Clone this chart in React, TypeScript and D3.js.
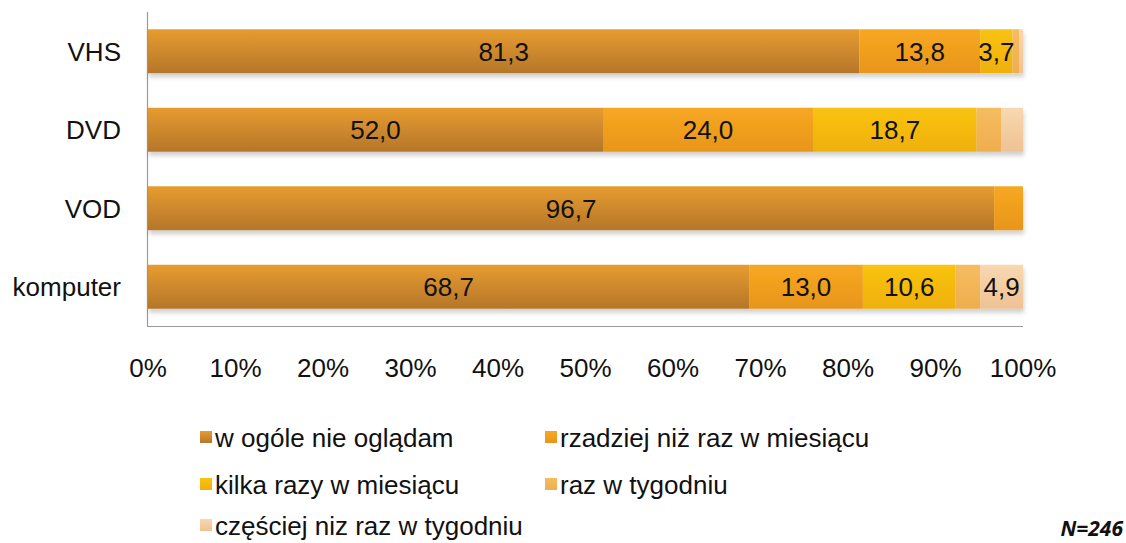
import React from 'react';
import * as d3 from 'd3';

const categories = ['VHS', 'DVD', 'VOD', 'komputer'];
const seriesNames = [
  'w ogóle nie oglądam',
  'rzadziej niż raz w miesiącu',
  'kilka razy w miesiącu',
  'raz w tygodniu',
  'częściej niz raz w tygodniu',
];
// values per category, in series order
const vhsValues = [81.3, 13.8, 3.7, 0.8, 0.4];
const dvdValues = [52.0, 24.0, 18.7, 2.8, 2.5];
const vodValues = [96.7, 3.3, 0, 0, 0];
const komputerValues = [68.7, 13.0, 10.6, 2.8, 4.9];
const xTicks = [0, 10, 20, 30, 40, 50, 60, 70, 80, 90, 100];
const sampleNote = 'N=246';

const colorTop = ['#E79C2F', '#F7A821', '#F9C312', '#F6BC60', '#F9D8B0'];
const colorBottom = ['#B5762B', '#E8951B', '#EFB00C', '#EFAE4E', '#EEC293'];

const App: React.FC = () => {
  const svgRef = React.useRef<SVGSVGElement>(null);
  const width = 1126;
  const height = 543;

  React.useEffect(() => {
    if (!svgRef.current) return;
    const svg = d3.select(svgRef.current);
    svg.selectAll('*').remove();

    const rows = [vhsValues, dvdValues, vodValues, komputerValues];
    const font = "'Liberation Sans', Arial, sans-serif";
    const fs = 26;

    const x = d3.scaleLinear().domain([0, 100]).range([148, 1023]);
    const y = d3.scaleBand().domain(categories).range([12, 326]).paddingInner(0.44).paddingOuter(0.22);

    const defs = svg.append('defs');
    colorTop.forEach((c, i) => {
      const g = defs.append('linearGradient')
        .attr('id', `grad${i}`)
        .attr('x1', 0).attr('y1', 0).attr('x2', 0).attr('y2', 1);
      g.append('stop').attr('offset', '0%').attr('stop-color', c);
      g.append('stop').attr('offset', '100%').attr('stop-color', colorBottom[i]);
    });
    const f = defs.append('filter').attr('id', 'shadow')
      .attr('x', '-5%').attr('y', '-20%').attr('width', '110%').attr('height', '160%');
    f.append('feDropShadow')
      .attr('dx', 1).attr('dy', 4).attr('stdDeviation', 2)
      .attr('flood-color', '#000').attr('flood-opacity', 0.18);

    // axes lines
    svg.append('line')
      .attr('x1', 147.5).attr('x2', 147.5).attr('y1', 12).attr('y2', 326.5)
      .attr('stroke', '#9a9a9a').attr('stroke-width', 1.2);
    svg.append('line')
      .attr('x1', 147).attr('x2', 1023).attr('y1', 326.5).attr('y2', 326.5)
      .attr('stroke', '#9a9a9a').attr('stroke-width', 1.2);

    rows.forEach((vals, ci) => {
      const cat = categories[ci];
      const g = svg.append('g').attr('filter', 'url(#shadow)');
      let acc = 0;
      const segs = vals.map((v, si) => {
        const s = { si, x0: acc, x1: acc + v, v };
        acc += v;
        return s;
      }).filter(s => s.v > 0);
      g.selectAll('rect')
        .data(segs)
        .enter().append('rect')
        .attr('x', d => x(d.x0))
        .attr('width', d => x(d.x1) - x(d.x0))
        .attr('y', y(cat) || 0)
        .attr('height', y.bandwidth())
        .attr('fill', d => `url(#grad${d.si})`);

      svg.append('g').selectAll('text')
        .data(segs.filter(s => s.v >= 3.5))
        .enter().append('text')
        .attr('x', d => (x(d.x0) + x(d.x1)) / 2)
        .attr('y', (y(cat) || 0) + y.bandwidth() / 2)
        .attr('dy', '0.36em')
        .attr('text-anchor', 'middle')
        .attr('font-family', font)
        .attr('font-size', fs)
        .attr('fill', '#111')
        .text(d => d3.format('.1f')(d.v).replace('.', ','));

      svg.append('text')
        .attr('x', 121)
        .attr('y', (y(cat) || 0) + y.bandwidth() / 2)
        .attr('dy', '0.36em')
        .attr('text-anchor', 'end')
        .attr('font-family', font)
        .attr('font-size', fs)
        .attr('fill', '#111')
        .text(cat);
    });

    // x tick labels
    svg.append('g').selectAll('text')
      .data(xTicks)
      .enter().append('text')
      .attr('x', d => x(d))
      .attr('y', 368)
      .attr('dy', '0.36em')
      .attr('text-anchor', 'middle')
      .attr('font-family', font)
      .attr('font-size', fs)
      .attr('fill', '#111')
      .text(d => `${d}%`);

    // legend
    const legendPos = [
      [200, 438], [545, 438],
      [200, 485], [545, 485],
      [200, 526],
    ];
    seriesNames.forEach((name, i) => {
      const [lx, ly] = legendPos[i];
      svg.append('rect')
        .attr('x', lx).attr('y', ly - 7).attr('width', 12).attr('height', 12)
        .attr('fill', `url(#grad${i})`);
      svg.append('text')
        .attr('x', lx + 15).attr('y', ly)
        .attr('dy', '0.36em')
        .attr('font-family', font)
        .attr('font-size', fs)
        .attr('fill', '#111')
        .text(name);
    });

    svg.append('text')
      .attr('x', 1123).attr('y', 536)
      .attr('text-anchor', 'end')
      .attr('font-family', "'Open Sans', sans-serif")
      .attr('font-style', 'italic')
      .attr('font-weight', 'bold')
      .attr('font-size', 21)
      .attr('fill', '#111')
      .text(sampleNote);
  }, []);

  return (
    <svg
      ref={svgRef}
      width={width}
      height={height}
      style={{ position: 'absolute', left: 0, top: 0, background: '#fff' }}
    />
  );
};

export default App;
